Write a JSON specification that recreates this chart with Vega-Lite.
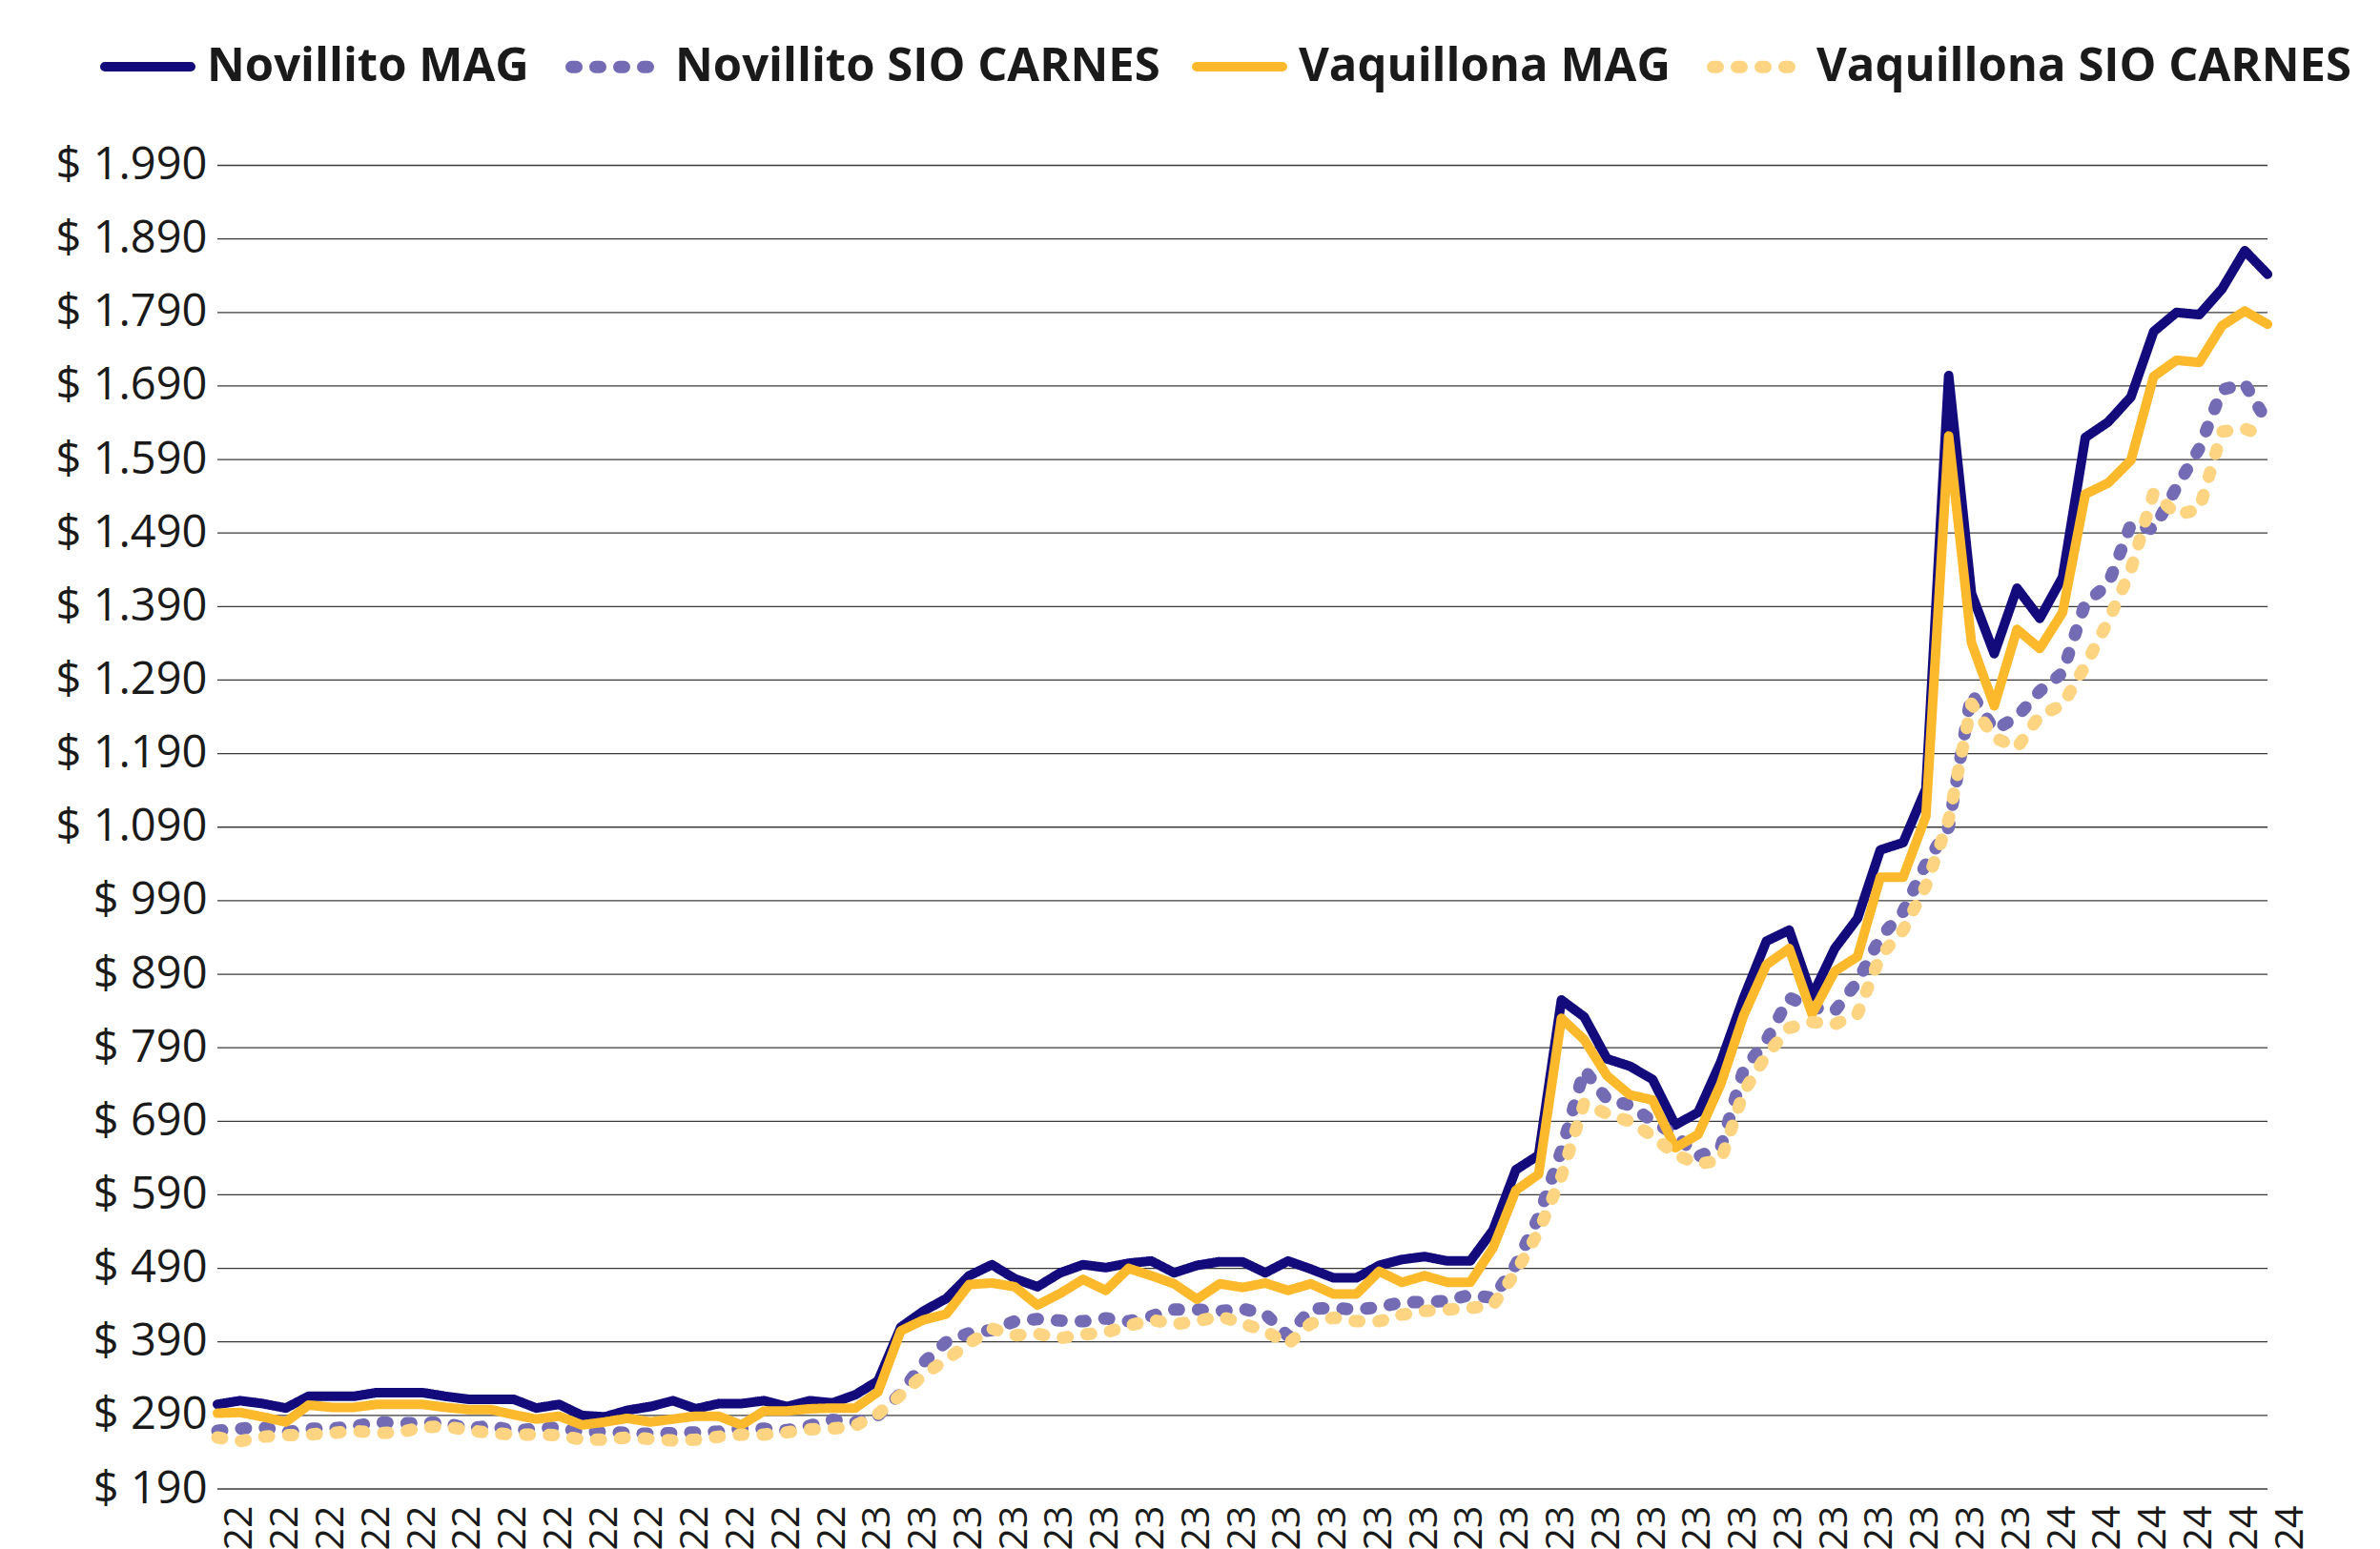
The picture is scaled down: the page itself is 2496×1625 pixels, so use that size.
{
  "$schema": "https://vega.github.io/schema/vega-lite/v6.json",
  "width": 2174,
  "height": 1388.5,
  "autosize": {"type": "none"},
  "padding": {"left": 228, "top": 173.5, "right": 94, "bottom": 63},
  "background": "white",
  "config": {"view": {"stroke": null}, "font": "Open Sans"},
  "datasets": {
    "grid": [{"g": 190}, {"g": 290}, {"g": 390}, {"g": 490}, {"g": 590}, {"g": 690}, {"g": 790}, {"g": 890}, {"g": 990}, {"g": 1090}, {"g": 1190}, {"g": 1290}, {"g": 1390}, {"g": 1490}, {"g": 1590}, {"g": 1690}, {"g": 1790}, {"g": 1890}, {"g": 1990}],
    "precios": [
      {"fecha": "2022-06-13", "Novillito MAG": 305, "Novillito SIO CARNES": 269, "Vaquillona MAG": 293, "Vaquillona SIO CARNES": 260},
      {"fecha": "2022-06-20", "Novillito MAG": 310, "Novillito SIO CARNES": 272, "Vaquillona MAG": 294, "Vaquillona SIO CARNES": 255},
      {"fecha": "2022-06-27", "Novillito MAG": 306, "Novillito SIO CARNES": 274, "Vaquillona MAG": 288, "Vaquillona SIO CARNES": 261},
      {"fecha": "2022-07-04", "Novillito MAG": 300, "Novillito SIO CARNES": 267, "Vaquillona MAG": 281, "Vaquillona SIO CARNES": 263},
      {"fecha": "2022-07-11", "Novillito MAG": 316, "Novillito SIO CARNES": 272, "Vaquillona MAG": 304, "Vaquillona SIO CARNES": 264},
      {"fecha": "2022-07-18", "Novillito MAG": 316, "Novillito SIO CARNES": 272, "Vaquillona MAG": 301, "Vaquillona SIO CARNES": 266},
      {"fecha": "2022-07-25", "Novillito MAG": 316, "Novillito SIO CARNES": 275, "Vaquillona MAG": 301, "Vaquillona SIO CARNES": 269},
      {"fecha": "2022-08-01", "Novillito MAG": 321, "Novillito SIO CARNES": 281, "Vaquillona MAG": 305, "Vaquillona SIO CARNES": 266},
      {"fecha": "2022-08-08", "Novillito MAG": 321, "Novillito SIO CARNES": 279, "Vaquillona MAG": 305, "Vaquillona SIO CARNES": 267},
      {"fecha": "2022-08-15", "Novillito MAG": 321, "Novillito SIO CARNES": 280, "Vaquillona MAG": 305, "Vaquillona SIO CARNES": 274},
      {"fecha": "2022-08-22", "Novillito MAG": 316, "Novillito SIO CARNES": 280, "Vaquillona MAG": 301, "Vaquillona SIO CARNES": 275},
      {"fecha": "2022-08-29", "Novillito MAG": 312, "Novillito SIO CARNES": 272, "Vaquillona MAG": 298, "Vaquillona SIO CARNES": 270},
      {"fecha": "2022-09-05", "Novillito MAG": 312, "Novillito SIO CARNES": 276, "Vaquillona MAG": 298, "Vaquillona SIO CARNES": 266},
      {"fecha": "2022-09-12", "Novillito MAG": 312, "Novillito SIO CARNES": 269, "Vaquillona MAG": 291, "Vaquillona SIO CARNES": 264},
      {"fecha": "2022-09-19", "Novillito MAG": 300, "Novillito SIO CARNES": 272, "Vaquillona MAG": 285, "Vaquillona SIO CARNES": 264},
      {"fecha": "2022-09-26", "Novillito MAG": 305, "Novillito SIO CARNES": 274, "Vaquillona MAG": 289, "Vaquillona SIO CARNES": 263},
      {"fecha": "2022-10-03", "Novillito MAG": 290, "Novillito SIO CARNES": 267, "Vaquillona MAG": 277, "Vaquillona SIO CARNES": 257},
      {"fecha": "2022-10-10", "Novillito MAG": 288, "Novillito SIO CARNES": 268, "Vaquillona MAG": 281, "Vaquillona SIO CARNES": 257},
      {"fecha": "2022-10-17", "Novillito MAG": 297, "Novillito SIO CARNES": 266, "Vaquillona MAG": 286, "Vaquillona SIO CARNES": 260},
      {"fecha": "2022-10-24", "Novillito MAG": 302, "Novillito SIO CARNES": 265, "Vaquillona MAG": 281, "Vaquillona SIO CARNES": 258},
      {"fecha": "2022-10-31", "Novillito MAG": 310, "Novillito SIO CARNES": 266, "Vaquillona MAG": 285, "Vaquillona SIO CARNES": 256},
      {"fecha": "2022-11-07", "Novillito MAG": 299, "Novillito SIO CARNES": 267, "Vaquillona MAG": 289, "Vaquillona SIO CARNES": 257},
      {"fecha": "2022-11-14", "Novillito MAG": 306, "Novillito SIO CARNES": 268, "Vaquillona MAG": 289, "Vaquillona SIO CARNES": 261},
      {"fecha": "2022-11-21", "Novillito MAG": 306, "Novillito SIO CARNES": 272, "Vaquillona MAG": 277, "Vaquillona SIO CARNES": 264},
      {"fecha": "2022-11-28", "Novillito MAG": 310, "Novillito SIO CARNES": 272, "Vaquillona MAG": 296, "Vaquillona SIO CARNES": 264},
      {"fecha": "2022-12-05", "Novillito MAG": 302, "Novillito SIO CARNES": 270, "Vaquillona MAG": 296, "Vaquillona SIO CARNES": 267},
      {"fecha": "2022-12-12", "Novillito MAG": 310, "Novillito SIO CARNES": 276, "Vaquillona MAG": 299, "Vaquillona SIO CARNES": 271},
      {"fecha": "2022-12-19", "Novillito MAG": 307, "Novillito SIO CARNES": 284, "Vaquillona MAG": 300, "Vaquillona SIO CARNES": 272},
      {"fecha": "2022-12-26", "Novillito MAG": 318, "Novillito SIO CARNES": 281, "Vaquillona MAG": 300, "Vaquillona SIO CARNES": 276},
      {"fecha": "2023-01-02", "Novillito MAG": 337, "Novillito SIO CARNES": 290, "Vaquillona MAG": 322, "Vaquillona SIO CARNES": 292},
      {"fecha": "2023-01-09", "Novillito MAG": 410, "Novillito SIO CARNES": 320, "Vaquillona MAG": 405, "Vaquillona SIO CARNES": 318},
      {"fecha": "2023-01-16", "Novillito MAG": 432, "Novillito SIO CARNES": 362, "Vaquillona MAG": 420, "Vaquillona SIO CARNES": 345},
      {"fecha": "2023-01-23", "Novillito MAG": 449, "Novillito SIO CARNES": 390, "Vaquillona MAG": 428, "Vaquillona SIO CARNES": 366},
      {"fecha": "2023-01-30", "Novillito MAG": 480, "Novillito SIO CARNES": 402, "Vaquillona MAG": 468, "Vaquillona SIO CARNES": 388},
      {"fecha": "2023-02-06", "Novillito MAG": 495, "Novillito SIO CARNES": 406, "Vaquillona MAG": 470, "Vaquillona SIO CARNES": 408},
      {"fecha": "2023-02-13", "Novillito MAG": 476, "Novillito SIO CARNES": 418, "Vaquillona MAG": 465, "Vaquillona SIO CARNES": 399},
      {"fecha": "2023-02-20", "Novillito MAG": 465, "Novillito SIO CARNES": 421, "Vaquillona MAG": 440, "Vaquillona SIO CARNES": 401},
      {"fecha": "2023-02-27", "Novillito MAG": 484, "Novillito SIO CARNES": 419, "Vaquillona MAG": 456, "Vaquillona SIO CARNES": 395},
      {"fecha": "2023-03-06", "Novillito MAG": 495, "Novillito SIO CARNES": 418, "Vaquillona MAG": 475, "Vaquillona SIO CARNES": 400},
      {"fecha": "2023-03-13", "Novillito MAG": 491, "Novillito SIO CARNES": 422, "Vaquillona MAG": 460, "Vaquillona SIO CARNES": 403},
      {"fecha": "2023-03-20", "Novillito MAG": 497, "Novillito SIO CARNES": 418, "Vaquillona MAG": 490, "Vaquillona SIO CARNES": 412},
      {"fecha": "2023-03-27", "Novillito MAG": 500, "Novillito SIO CARNES": 425, "Vaquillona MAG": 480, "Vaquillona SIO CARNES": 420},
      {"fecha": "2023-04-03", "Novillito MAG": 484, "Novillito SIO CARNES": 434, "Vaquillona MAG": 469, "Vaquillona SIO CARNES": 414},
      {"fecha": "2023-04-10", "Novillito MAG": 494, "Novillito SIO CARNES": 434, "Vaquillona MAG": 448, "Vaquillona SIO CARNES": 418},
      {"fecha": "2023-04-17", "Novillito MAG": 499, "Novillito SIO CARNES": 432, "Vaquillona MAG": 469, "Vaquillona SIO CARNES": 425},
      {"fecha": "2023-04-24", "Novillito MAG": 499, "Novillito SIO CARNES": 435, "Vaquillona MAG": 464, "Vaquillona SIO CARNES": 415},
      {"fecha": "2023-05-01", "Novillito MAG": 484, "Novillito SIO CARNES": 428, "Vaquillona MAG": 470, "Vaquillona SIO CARNES": 405},
      {"fecha": "2023-05-08", "Novillito MAG": 500, "Novillito SIO CARNES": 398, "Vaquillona MAG": 460, "Vaquillona SIO CARNES": 387},
      {"fecha": "2023-05-15", "Novillito MAG": 489, "Novillito SIO CARNES": 435, "Vaquillona MAG": 469, "Vaquillona SIO CARNES": 415},
      {"fecha": "2023-05-22", "Novillito MAG": 477, "Novillito SIO CARNES": 436, "Vaquillona MAG": 455, "Vaquillona SIO CARNES": 423},
      {"fecha": "2023-05-29", "Novillito MAG": 477, "Novillito SIO CARNES": 434, "Vaquillona MAG": 455, "Vaquillona SIO CARNES": 418},
      {"fecha": "2023-06-05", "Novillito MAG": 494, "Novillito SIO CARNES": 437, "Vaquillona MAG": 486, "Vaquillona SIO CARNES": 418},
      {"fecha": "2023-06-12", "Novillito MAG": 502, "Novillito SIO CARNES": 444, "Vaquillona MAG": 471, "Vaquillona SIO CARNES": 427},
      {"fecha": "2023-06-19", "Novillito MAG": 506, "Novillito SIO CARNES": 444, "Vaquillona MAG": 480, "Vaquillona SIO CARNES": 432},
      {"fecha": "2023-06-26", "Novillito MAG": 500, "Novillito SIO CARNES": 446, "Vaquillona MAG": 471, "Vaquillona SIO CARNES": 434},
      {"fecha": "2023-07-03", "Novillito MAG": 500, "Novillito SIO CARNES": 454, "Vaquillona MAG": 471, "Vaquillona SIO CARNES": 436},
      {"fecha": "2023-07-10", "Novillito MAG": 542, "Novillito SIO CARNES": 450, "Vaquillona MAG": 518, "Vaquillona SIO CARNES": 440},
      {"fecha": "2023-07-17", "Novillito MAG": 624, "Novillito SIO CARNES": 495, "Vaquillona MAG": 596, "Vaquillona SIO CARNES": 485},
      {"fecha": "2023-07-24", "Novillito MAG": 644, "Novillito SIO CARNES": 560, "Vaquillona MAG": 618, "Vaquillona SIO CARNES": 540},
      {"fecha": "2023-07-31", "Novillito MAG": 855, "Novillito SIO CARNES": 650, "Vaquillona MAG": 830, "Vaquillona SIO CARNES": 615},
      {"fecha": "2023-08-07", "Novillito MAG": 832, "Novillito SIO CARNES": 760, "Vaquillona MAG": 801, "Vaquillona SIO CARNES": 715},
      {"fecha": "2023-08-14", "Novillito MAG": 775, "Novillito SIO CARNES": 720, "Vaquillona MAG": 752, "Vaquillona SIO CARNES": 700},
      {"fecha": "2023-08-21", "Novillito MAG": 765, "Novillito SIO CARNES": 712, "Vaquillona MAG": 726, "Vaquillona SIO CARNES": 690},
      {"fecha": "2023-08-28", "Novillito MAG": 747, "Novillito SIO CARNES": 690, "Vaquillona MAG": 719, "Vaquillona SIO CARNES": 670},
      {"fecha": "2023-09-04", "Novillito MAG": 685, "Novillito SIO CARNES": 672, "Vaquillona MAG": 654, "Vaquillona SIO CARNES": 645},
      {"fecha": "2023-09-11", "Novillito MAG": 702, "Novillito SIO CARNES": 642, "Vaquillona MAG": 672, "Vaquillona SIO CARNES": 632},
      {"fecha": "2023-09-18", "Novillito MAG": 771, "Novillito SIO CARNES": 655, "Vaquillona MAG": 741, "Vaquillona SIO CARNES": 637},
      {"fecha": "2023-09-25", "Novillito MAG": 858, "Novillito SIO CARNES": 760, "Vaquillona MAG": 834, "Vaquillona SIO CARNES": 730},
      {"fecha": "2023-10-02", "Novillito MAG": 935, "Novillito SIO CARNES": 800, "Vaquillona MAG": 903, "Vaquillona SIO CARNES": 780},
      {"fecha": "2023-10-09", "Novillito MAG": 950, "Novillito SIO CARNES": 858, "Vaquillona MAG": 925, "Vaquillona SIO CARNES": 817},
      {"fecha": "2023-10-16", "Novillito MAG": 860, "Novillito SIO CARNES": 845, "Vaquillona MAG": 836, "Vaquillona SIO CARNES": 825},
      {"fecha": "2023-10-23", "Novillito MAG": 925, "Novillito SIO CARNES": 840, "Vaquillona MAG": 894, "Vaquillona SIO CARNES": 822},
      {"fecha": "2023-10-30", "Novillito MAG": 966, "Novillito SIO CARNES": 880, "Vaquillona MAG": 914, "Vaquillona SIO CARNES": 836},
      {"fecha": "2023-11-06", "Novillito MAG": 1059, "Novillito SIO CARNES": 940, "Vaquillona MAG": 1022, "Vaquillona SIO CARNES": 915},
      {"fecha": "2023-11-13", "Novillito MAG": 1069, "Novillito SIO CARNES": 975, "Vaquillona MAG": 1022, "Vaquillona SIO CARNES": 950},
      {"fecha": "2023-11-20", "Novillito MAG": 1142, "Novillito SIO CARNES": 1040, "Vaquillona MAG": 1105, "Vaquillona SIO CARNES": 1010},
      {"fecha": "2023-11-27", "Novillito MAG": 1704, "Novillito SIO CARNES": 1090, "Vaquillona MAG": 1622, "Vaquillona SIO CARNES": 1100},
      {"fecha": "2023-12-04", "Novillito MAG": 1408, "Novillito SIO CARNES": 1272, "Vaquillona MAG": 1341, "Vaquillona SIO CARNES": 1258},
      {"fecha": "2023-12-11", "Novillito MAG": 1326, "Novillito SIO CARNES": 1222, "Vaquillona MAG": 1255, "Vaquillona SIO CARNES": 1212},
      {"fecha": "2023-12-18", "Novillito MAG": 1415, "Novillito SIO CARNES": 1240, "Vaquillona MAG": 1359, "Vaquillona SIO CARNES": 1198},
      {"fecha": "2023-12-25", "Novillito MAG": 1374, "Novillito SIO CARNES": 1275, "Vaquillona MAG": 1333, "Vaquillona SIO CARNES": 1242},
      {"fecha": "2024-01-01", "Novillito MAG": 1430, "Novillito SIO CARNES": 1300, "Vaquillona MAG": 1382, "Vaquillona SIO CARNES": 1256},
      {"fecha": "2024-01-08", "Novillito MAG": 1620, "Novillito SIO CARNES": 1395, "Vaquillona MAG": 1543, "Vaquillona SIO CARNES": 1310},
      {"fecha": "2024-01-15", "Novillito MAG": 1641, "Novillito SIO CARNES": 1420, "Vaquillona MAG": 1558, "Vaquillona SIO CARNES": 1370},
      {"fecha": "2024-01-22", "Novillito MAG": 1675, "Novillito SIO CARNES": 1502, "Vaquillona MAG": 1589, "Vaquillona SIO CARNES": 1440},
      {"fecha": "2024-01-29", "Novillito MAG": 1764, "Novillito SIO CARNES": 1495, "Vaquillona MAG": 1703, "Vaquillona SIO CARNES": 1545},
      {"fecha": "2024-02-05", "Novillito MAG": 1790, "Novillito SIO CARNES": 1552, "Vaquillona MAG": 1725, "Vaquillona SIO CARNES": 1515},
      {"fecha": "2024-02-12", "Novillito MAG": 1787, "Novillito SIO CARNES": 1605, "Vaquillona MAG": 1722, "Vaquillona SIO CARNES": 1522},
      {"fecha": "2024-02-19", "Novillito MAG": 1822, "Novillito SIO CARNES": 1685, "Vaquillona MAG": 1772, "Vaquillona SIO CARNES": 1628},
      {"fecha": "2024-02-26", "Novillito MAG": 1874, "Novillito SIO CARNES": 1693, "Vaquillona MAG": 1792, "Vaquillona SIO CARNES": 1632},
      {"fecha": "2024-03-04", "Novillito MAG": 1842, "Novillito SIO CARNES": 1640, "Vaquillona MAG": 1774, "Vaquillona SIO CARNES": 1620}
    ]
  },
  "layer": [
    {
      "data": {"name": "grid"},
      "mark": {"type": "rule", "color": "#3a3a3a", "strokeWidth": 1.3},
      "encoding": {
        "x": {"datum": {"year": 2022, "month": 6, "date": 13, "utc": true}, "type": "temporal"},
        "x2": {"datum": {"year": 2024, "month": 3, "date": 4, "utc": true}},
        "y": {
          "field": "g", "type": "quantitative",
          "scale": {"domain": [190, 1990], "nice": false, "zero": false},
          "axis": {
            "values": [190, 290, 390, 490, 590, 690, 790, 890, 990, 1090, 1190, 1290, 1390, 1490, 1590, 1690, 1790, 1890, 1990],
            "labelExpr": "'$ ' + replace(format(datum.value, ',d'), ',', '.')",
            "labelFont": "Open Sans", "labelFontSize": 47, "labelColor": "#1a1a1a", "labelPadding": 11,
            "labelFlush": false, "labelOverlap": false, "domain": false, "ticks": false, "grid": false, "title": null
          }
        }
      }
    },
    {
      "data": {"name": "precios"},
      "transform": [{"fold": ["Novillito MAG", "Novillito SIO CARNES", "Vaquillona MAG", "Vaquillona SIO CARNES"], "as": ["serie", "precio"]}],
      "mark": {"type": "line", "strokeCap": "round", "strokeJoin": "round"},
      "encoding": {
        "x": {
          "field": "fecha", "type": "temporal",
          "scale": {"type": "utc", "domain": [{"year": 2022, "month": 6, "date": 13, "utc": true}, {"year": 2024, "month": 3, "date": 11, "utc": true}], "nice": false},
          "axis": {
            "values": [
              {"year": 2022, "month": 6, "date": 20, "utc": true}, {"year": 2022, "month": 7, "date": 4, "utc": true}, {"year": 2022, "month": 7, "date": 18, "utc": true},
              {"year": 2022, "month": 8, "date": 1, "utc": true}, {"year": 2022, "month": 8, "date": 15, "utc": true}, {"year": 2022, "month": 8, "date": 29, "utc": true},
              {"year": 2022, "month": 9, "date": 12, "utc": true}, {"year": 2022, "month": 9, "date": 26, "utc": true}, {"year": 2022, "month": 10, "date": 10, "utc": true},
              {"year": 2022, "month": 10, "date": 24, "utc": true}, {"year": 2022, "month": 11, "date": 7, "utc": true}, {"year": 2022, "month": 11, "date": 21, "utc": true},
              {"year": 2022, "month": 12, "date": 5, "utc": true}, {"year": 2022, "month": 12, "date": 19, "utc": true},
              {"year": 2023, "month": 1, "date": 2, "utc": true}, {"year": 2023, "month": 1, "date": 16, "utc": true}, {"year": 2023, "month": 1, "date": 30, "utc": true},
              {"year": 2023, "month": 2, "date": 13, "utc": true}, {"year": 2023, "month": 2, "date": 27, "utc": true}, {"year": 2023, "month": 3, "date": 13, "utc": true},
              {"year": 2023, "month": 3, "date": 27, "utc": true}, {"year": 2023, "month": 4, "date": 10, "utc": true}, {"year": 2023, "month": 4, "date": 24, "utc": true},
              {"year": 2023, "month": 5, "date": 8, "utc": true}, {"year": 2023, "month": 5, "date": 22, "utc": true}, {"year": 2023, "month": 6, "date": 5, "utc": true},
              {"year": 2023, "month": 6, "date": 19, "utc": true}, {"year": 2023, "month": 7, "date": 3, "utc": true}, {"year": 2023, "month": 7, "date": 17, "utc": true},
              {"year": 2023, "month": 7, "date": 31, "utc": true}, {"year": 2023, "month": 8, "date": 14, "utc": true}, {"year": 2023, "month": 8, "date": 28, "utc": true},
              {"year": 2023, "month": 9, "date": 11, "utc": true}, {"year": 2023, "month": 9, "date": 25, "utc": true}, {"year": 2023, "month": 10, "date": 9, "utc": true},
              {"year": 2023, "month": 10, "date": 23, "utc": true}, {"year": 2023, "month": 11, "date": 6, "utc": true}, {"year": 2023, "month": 11, "date": 20, "utc": true},
              {"year": 2023, "month": 12, "date": 4, "utc": true}, {"year": 2023, "month": 12, "date": 18, "utc": true},
              {"year": 2024, "month": 1, "date": 1, "utc": true}, {"year": 2024, "month": 1, "date": 15, "utc": true}, {"year": 2024, "month": 1, "date": 29, "utc": true},
              {"year": 2024, "month": 2, "date": 12, "utc": true}, {"year": 2024, "month": 2, "date": 26, "utc": true}, {"year": 2024, "month": 3, "date": 11, "utc": true}
            ],
            "format": "%d/%m/%y",
            "labelAngle": -90, "labelAlign": "right", "labelBaseline": "middle",
            "labelFont": "Open Sans", "labelFontSize": 41, "labelColor": "#1a1a1a", "labelPadding": 17,
            "labelFlush": false, "labelOverlap": false, "domain": false, "ticks": false, "grid": false, "title": null
          }
        },
        "y": {
          "field": "precio", "type": "quantitative",
          "axis": {
            "values": [190, 290, 390, 490, 590, 690, 790, 890, 990, 1090, 1190, 1290, 1390, 1490, 1590, 1690, 1790, 1890, 1990],
            "labelExpr": "'$ ' + replace(format(datum.value, ',d'), ',', '.')",
            "labelFont": "Open Sans", "labelFontSize": 47, "labelColor": "#1a1a1a", "labelPadding": 11,
            "labelFlush": false, "labelOverlap": false, "domain": false, "ticks": false, "grid": false, "title": null
          }
        },
        "color": {
          "field": "serie", "type": "nominal",
          "scale": {"domain": ["Novillito MAG", "Novillito SIO CARNES", "Vaquillona MAG", "Vaquillona SIO CARNES"], "range": ["#130A7C", "#736CB5", "#FDB92C", "#FDD582"]},
          "legend": {"title": null, "orient": "none", "legendX": -123, "legendY": -155, "direction": "horizontal", "symbolType": "stroke", "symbolSize": 8100, "symbolStrokeWidth": 13, "labelFont": "Open Sans", "labelFontSize": 49, "labelFontWeight": "bold", "labelColor": "#1a1a1a", "labelOffset": 12, "columnPadding": 18, "labelLimit": 1000, "padding": 0,
            "encode": {"symbols": {"update": {"strokeCap": {"value": "round"}}}}}
        },
        "strokeDash": {
          "field": "serie", "type": "nominal",
          "scale": {"domain": ["Novillito MAG", "Novillito SIO CARNES", "Vaquillona MAG", "Vaquillona SIO CARNES"], "range": [[1, 0], [5, 20], [1, 0], [5, 20]]},
          "legend": {"title": null, "orient": "none", "legendX": -123, "legendY": -155, "direction": "horizontal", "symbolType": "stroke", "symbolSize": 8100, "symbolStrokeWidth": 13, "labelFont": "Open Sans", "labelFontSize": 49, "labelFontWeight": "bold", "labelColor": "#1a1a1a", "labelOffset": 12, "columnPadding": 18, "labelLimit": 1000, "padding": 0,
            "encode": {"symbols": {"update": {"strokeCap": {"value": "round"}}}}}
        },
        "strokeWidth": {
          "field": "serie", "type": "nominal",
          "scale": {"type": "ordinal", "domain": ["Novillito MAG", "Novillito SIO CARNES", "Vaquillona MAG", "Vaquillona SIO CARNES"], "range": [10, 13, 10, 13]},
          "legend": null
        }
      }
    }
  ]
}
